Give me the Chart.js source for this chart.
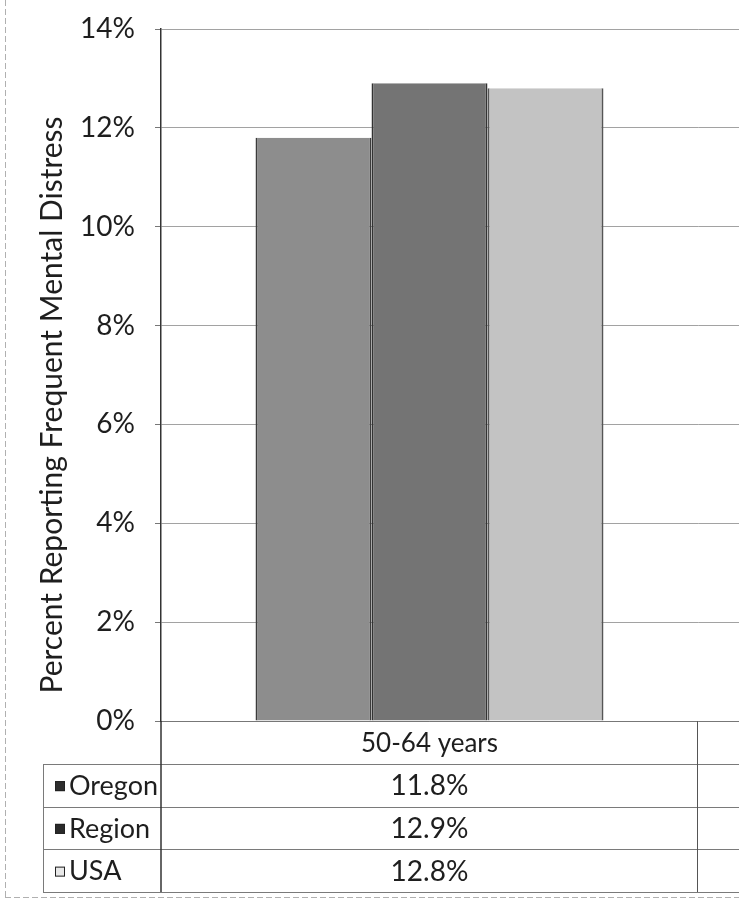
<!DOCTYPE html>
<html>
<head>
<meta charset="utf-8">
<script src="https://cdn.jsdelivr.net/npm/chart.js@4"></script>
<style>
  html, body { margin: 0; padding: 0; background: #fff; overflow: hidden; }
  #wrap { position: relative; width: 739px; height: 901px; overflow: hidden; }
  canvas { display: block; }
</style>
</head>
<body>
<div id="wrap"><canvas id="c" width="1245" height="901"></canvas></div>
<script>
// Age groups along the category axis (the second column continues off to the right)
const categories = ['50-64 years', ''];
// Percent of adults reporting frequent mental distress
const oregon = [11.8, null];
const region = [12.9, null];
const usa    = [12.8, null];
// Value axis ticks, in percent
const yTicks = [0, 2, 4, 6, 8, 10, 12, 14];
const yTitle = 'Percent Reporting Frequent Mental Distress';

const FONT = 'Lato, "Open Sans", sans-serif';
const TEXT = '#1e1e1e';

function line(ctx, x1, y1, x2, y2) {
  ctx.beginPath(); ctx.moveTo(x1, y1); ctx.lineTo(x2, y2); ctx.stroke();
}

// Data table under the plot: header row with category names, one row per series
const dataTable = {
  id: 'dataTable',
  beforeDraw(chart) {
    const ctx = chart.ctx;
    ctx.save();
    ctx.fillStyle = '#fff';
    ctx.fillRect(0, 0, chart.width, chart.height);
    ctx.restore();
  },
  afterDraw(chart) {
    const { ctx, chartArea: a, scales: { x } } = chart;
    const rowH = 42.75;
    const top = a.bottom;
    const bottom = top + rowH * 4;
    const legendLeft = 43;
    const half = (x.getPixelForValue(1) - x.getPixelForValue(0)) / 2;
    ctx.save();

    // row separators
    ctx.strokeStyle = '#7a7a7a';
    ctx.lineWidth = 1;
    for (let r = 1; r <= 4; r++) {
      const y = Math.round(top + r * rowH) + 0.5;
      line(ctx, legendLeft, y, a.right, y);
    }
    // legend column left edge
    line(ctx, legendLeft + 0.5, Math.round(top + rowH), legendLeft + 0.5, Math.round(bottom) + 0.5);
    // column separators
    ctx.strokeStyle = '#555';
    for (let i = 0; i < categories.length; i++) {
      const xr = Math.round(x.getPixelForValue(i) + half) - 0.5;
      line(ctx, xr, top, xr, bottom);
    }
    // value axis continues down through the table
    ctx.strokeStyle = '#333';
    ctx.lineWidth = 1.5;
    line(ctx, a.left, top, a.left, bottom);

    ctx.fillStyle = TEXT;
    ctx.textBaseline = 'middle';
    ctx.textAlign = 'center';
    ctx.font = '26px ' + FONT;
    categories.forEach((c, i) => ctx.fillText(c, x.getPixelForValue(i), top + rowH / 2 + 1));

    chart.data.datasets.forEach((ds, r) => {
      const yc = top + rowH * (r + 1.5) + 1;
      ctx.fillStyle = TEXT;
      ctx.textAlign = 'center';
      ctx.font = '28px ' + FONT;
      ds.data.forEach((v, i) => {
        if (v != null) ctx.fillText(v.toFixed(1) + '%', x.getPixelForValue(i), yc);
      });
      // legend key
      ctx.fillStyle = ds.keyColor;
      ctx.fillRect(55, yc - 5, 10, 10);
      ctx.strokeStyle = '#222';
      ctx.lineWidth = 1;
      ctx.strokeRect(55.5, yc - 4.5, 9, 9);
      ctx.fillStyle = TEXT;
      ctx.textAlign = 'left';
      ctx.font = '27px ' + FONT;
      ctx.fillText(ds.label, 69, yc);
    });

    // value axis title
    ctx.save();
    ctx.translate(52, 405);
    ctx.rotate(-Math.PI / 2);
    ctx.textAlign = 'center';
    ctx.font = '30px ' + FONT;
    ctx.fillStyle = TEXT;
    ctx.fillText(yTitle, 0, 0);
    ctx.restore();

    // outer chart border
    ctx.strokeStyle = '#b0b0b0';
    ctx.lineWidth = 1;
    ctx.setLineDash([6, 3]);
    line(ctx, 5.5, 0, 5.5, 897);
    line(ctx, 5, 897.5, chart.width, 897.5);
    ctx.restore();
  }
};

const barBorder = { left: 2, right: 2, top: 0, bottom: 0 };

new Chart(document.getElementById('c'), {
  type: 'bar',
  data: {
    labels: categories,
    datasets: [
      { label: 'Oregon', data: oregon, backgroundColor: '#8d8d8d', borderColor: '#3c3c3c', borderWidth: barBorder, borderSkipped: false, keyColor: '#2e2e2e' },
      { label: 'Region', data: region, backgroundColor: '#747474', borderColor: '#333', borderWidth: barBorder, borderSkipped: false, keyColor: '#2a2a2a' },
      { label: 'USA',    data: usa,    backgroundColor: '#c3c3c3', borderColor: '#555', borderWidth: barBorder, borderSkipped: false, keyColor: '#e8e8e8' }
    ]
  },
  options: {
    responsive: false,
    animation: false,
    layout: { padding: { left: 0, top: 29, right: 10, bottom: 180 } },
    plugins: { legend: { display: false }, tooltip: { enabled: false } },
    datasets: { bar: { categoryPercentage: 0.648, barPercentage: 1 } },
    scales: {
      x: {
        afterFit(scale) { scale.height = 0; scale.paddingLeft = 0; scale.paddingRight = 0; },
        grid: { display: false, drawTicks: false },
        border: { display: true, color: '#777', width: 1 },
        ticks: { display: false }
      },
      y: {
        min: yTicks[0],
        max: yTicks[yTicks.length - 1],
        afterFit(scale) { scale.width = 161; scale.paddingTop = 0; scale.paddingBottom = 0; },
        afterBuildTicks(scale) { scale.ticks = yTicks.map(v => ({ value: v })); },
        ticks: {
          padding: 20,
          color: TEXT,
          font: { family: FONT, size: 28 },
          callback: v => v + '%'
        },
        grid: { color: '#a2a2a2', lineWidth: 1, tickLength: 6, tickColor: '#777' },
        border: { display: true, color: '#333', width: 1.5 }
      }
    }
  },
  plugins: [dataTable]
});
</script>
</body>
</html>
